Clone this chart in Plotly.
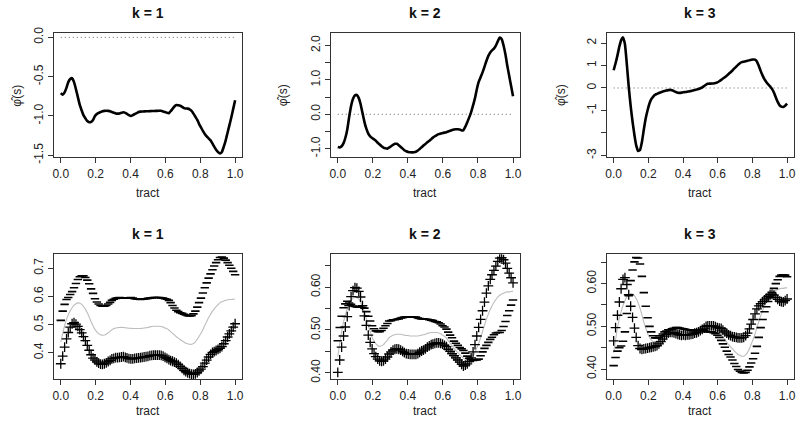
import plotly.graph_objects as go

# ---------------- data ----------------
tract = [0.000, 0.011, 0.022, 0.033, 0.043, 0.054, 0.065, 0.076, 0.087, 0.098,
         0.109, 0.120, 0.130, 0.141, 0.152, 0.163, 0.174, 0.185, 0.196, 0.207,
         0.217, 0.228, 0.239, 0.250, 0.261, 0.272, 0.283, 0.293, 0.304, 0.315,
         0.326, 0.337, 0.348, 0.359, 0.370, 0.380, 0.391, 0.402, 0.413, 0.424,
         0.435, 0.446, 0.457, 0.467, 0.478, 0.489, 0.500, 0.511, 0.522, 0.533,
         0.543, 0.554, 0.565, 0.576, 0.587, 0.598, 0.609, 0.620, 0.630, 0.641,
         0.652, 0.663, 0.674, 0.685, 0.696, 0.707, 0.717, 0.728, 0.739, 0.750,
         0.761, 0.772, 0.783, 0.793, 0.804, 0.815, 0.826, 0.837, 0.848, 0.859,
         0.870, 0.880, 0.891, 0.902, 0.913, 0.924, 0.935, 0.946, 0.957, 0.967,
         0.978, 0.989, 1.000]

phi1 = [-0.71, -0.73, -0.70, -0.64, -0.57, -0.53, -0.52, -0.57, -0.66, -0.76,
        -0.86, -0.93, -0.99, -1.03, -1.065, -1.08, -1.075, -1.05, -1.00, -0.975,
        -0.96, -0.95, -0.94, -0.935, -0.933, -0.935, -0.94, -0.95, -0.96, -0.967,
        -0.97, -0.968, -0.96, -0.953, -0.96, -0.974, -0.99, -1.00, -0.99, -0.975,
        -0.965, -0.95, -0.945, -0.943, -0.942, -0.94, -0.94, -0.939, -0.938, -0.937,
        -0.936, -0.935, -0.933, -0.935, -0.943, -0.95, -0.96, -0.965, -0.94, -0.91,
        -0.88, -0.862, -0.865, -0.87, -0.885, -0.90, -0.905, -0.907, -0.915, -0.935,
        -0.97, -1.01, -1.05, -1.10, -1.145, -1.19, -1.228, -1.26, -1.285, -1.31,
        -1.35, -1.39, -1.43, -1.46, -1.477, -1.457, -1.39, -1.31, -1.21, -1.12,
        -1.02, -0.91, -0.80]

phi2 = [-0.953, -0.965, -0.93, -0.84, -0.69, -0.45, -0.08, 0.24, 0.45, 0.55,
        0.56, 0.47, 0.30, 0.04, -0.22, -0.42, -0.56, -0.64, -0.69, -0.73,
        -0.77, -0.83, -0.88, -0.93, -0.97, -0.99, -1.00, -0.97, -0.93, -0.89,
        -0.86, -0.86, -0.90, -0.95, -1.00, -1.045, -1.075, -1.095, -1.105, -1.107,
        -1.105, -1.09, -1.056, -1.01, -0.96, -0.91, -0.865, -0.815, -0.77, -0.725,
        -0.68, -0.64, -0.605, -0.578, -0.562, -0.548, -0.534, -0.52, -0.50, -0.48,
        -0.46, -0.443, -0.435, -0.437, -0.445, -0.47, -0.46, -0.36, -0.23, -0.09,
        0.06, 0.26, 0.47, 0.72, 0.94, 1.08, 1.22, 1.38, 1.55, 1.70,
        1.80, 1.86, 1.91, 2.00, 2.12, 2.23, 2.19, 2.00, 1.73, 1.42,
        1.12, 0.82, 0.523]

phi3 = [0.79, 1.10, 1.45, 1.85, 2.12, 2.25, 1.95, 1.05, 0.05, -0.80,
        -1.50, -2.10, -2.55, -2.80, -2.76, -2.40, -1.85, -1.35, -0.98, -0.68,
        -0.50, -0.38, -0.30, -0.26, -0.22, -0.19, -0.16, -0.135, -0.11, -0.095,
        -0.085, -0.10, -0.14, -0.18, -0.21, -0.215, -0.205, -0.19, -0.18, -0.165,
        -0.15, -0.13, -0.11, -0.09, -0.07, -0.045, -0.01, 0.03, 0.09, 0.15,
        0.185, 0.195, 0.197, 0.20, 0.22, 0.25, 0.30, 0.36, 0.42, 0.48,
        0.55, 0.62, 0.70, 0.78, 0.87, 0.95, 1.03, 1.10, 1.15, 1.17,
        1.19, 1.21, 1.235, 1.255, 1.265, 1.26, 1.18, 0.98, 0.75, 0.55,
        0.38, 0.27, 0.16, 0.07, -0.04, -0.20, -0.42, -0.62, -0.77, -0.83,
        -0.845, -0.79, -0.70]

mean_fa = [0.438, 0.468, 0.496, 0.519, 0.534, 0.549, 0.560, 0.569, 0.574, 0.577,
           0.576, 0.572, 0.565, 0.555, 0.542, 0.527, 0.510, 0.496, 0.483, 0.474,
           0.468, 0.464, 0.462, 0.463, 0.466, 0.471, 0.476, 0.482, 0.485, 0.488,
           0.489, 0.490, 0.490, 0.490, 0.489, 0.488, 0.487, 0.487, 0.486, 0.486,
           0.486, 0.486, 0.486, 0.487, 0.488, 0.489, 0.490, 0.492, 0.493, 0.494,
           0.494, 0.494, 0.494, 0.493, 0.491, 0.488, 0.485, 0.481, 0.475, 0.469,
           0.463, 0.457, 0.452, 0.447, 0.442, 0.438, 0.434, 0.432, 0.430, 0.430,
           0.433, 0.439, 0.448, 0.458, 0.469, 0.482, 0.497, 0.511, 0.525, 0.537,
           0.548, 0.556, 0.564, 0.571, 0.577, 0.581, 0.584, 0.586, 0.588, 0.589,
           0.589, 0.590, 0.590]

plus1 = [0.361, 0.388, 0.420, 0.449, 0.472, 0.491, 0.503, 0.507, 0.502, 0.494,
         0.482, 0.471, 0.457, 0.443, 0.426, 0.409, 0.393, 0.381, 0.374, 0.368,
         0.363, 0.360, 0.359, 0.361, 0.364, 0.369, 0.373, 0.378, 0.380, 0.383,
         0.383, 0.384, 0.385, 0.386, 0.384, 0.382, 0.379, 0.378, 0.378, 0.380,
         0.381, 0.382, 0.383, 0.384, 0.385, 0.386, 0.387, 0.390, 0.391, 0.392,
         0.392, 0.392, 0.392, 0.391, 0.388, 0.384, 0.380, 0.376, 0.372, 0.370,
         0.367, 0.363, 0.358, 0.352, 0.345, 0.338, 0.333, 0.329, 0.326, 0.324,
         0.323, 0.325, 0.330, 0.336, 0.342, 0.351, 0.363, 0.374, 0.385, 0.394,
         0.401, 0.404, 0.408, 0.412, 0.416, 0.422, 0.432, 0.443, 0.456, 0.467,
         0.478, 0.491, 0.503]

minus1 = [0.515, 0.548, 0.572, 0.589, 0.596, 0.607, 0.617, 0.631, 0.646, 0.660,
          0.670, 0.673, 0.673, 0.667, 0.658, 0.645, 0.627, 0.611, 0.592, 0.580,
          0.573, 0.568, 0.565, 0.565, 0.568, 0.573, 0.579, 0.586, 0.590, 0.593,
          0.595, 0.596, 0.595, 0.594, 0.594, 0.594, 0.595, 0.596, 0.594, 0.592,
          0.591, 0.590, 0.589, 0.590, 0.591, 0.592, 0.593, 0.594, 0.595, 0.596,
          0.596, 0.596, 0.596, 0.595, 0.594, 0.592, 0.590, 0.586, 0.578, 0.568,
          0.559, 0.551, 0.546, 0.542, 0.540, 0.537, 0.534, 0.532, 0.531, 0.532,
          0.538, 0.548, 0.562, 0.578, 0.594, 0.612, 0.631, 0.648, 0.665, 0.680,
          0.695, 0.708, 0.720, 0.730, 0.738, 0.740, 0.736, 0.729, 0.720, 0.711,
          0.700, 0.689, 0.677]

plus2 = [0.401, 0.430, 0.460, 0.486, 0.507, 0.531, 0.557, 0.578, 0.592, 0.599,
         0.598, 0.590, 0.577, 0.557, 0.533, 0.511, 0.488, 0.471, 0.456, 0.445,
         0.438, 0.432, 0.428, 0.427, 0.428, 0.432, 0.437, 0.444, 0.449, 0.453,
         0.455, 0.456, 0.455, 0.453, 0.450, 0.447, 0.445, 0.444, 0.443, 0.443,
         0.443, 0.443, 0.445, 0.448, 0.451, 0.453, 0.456, 0.460, 0.463, 0.466,
         0.467, 0.469, 0.470, 0.470, 0.469, 0.467, 0.464, 0.461, 0.455, 0.450,
         0.445, 0.440, 0.435, 0.430, 0.425, 0.420, 0.416, 0.418, 0.421, 0.426,
         0.435, 0.449, 0.466, 0.486, 0.506, 0.525, 0.545, 0.565, 0.586, 0.603,
         0.618, 0.629, 0.639, 0.649, 0.660, 0.668, 0.669, 0.664, 0.656, 0.644,
         0.633, 0.622, 0.610]

minus2 = [0.475, 0.506, 0.532, 0.552, 0.561, 0.567, 0.563, 0.560, 0.556, 0.555,
          0.554, 0.554, 0.553, 0.553, 0.551, 0.543, 0.532, 0.521, 0.510, 0.503,
          0.498, 0.496, 0.496, 0.499, 0.504, 0.510, 0.515, 0.521, 0.522, 0.524,
          0.524, 0.525, 0.526, 0.528, 0.529, 0.530, 0.530, 0.531, 0.530, 0.530,
          0.530, 0.530, 0.528, 0.527, 0.526, 0.526, 0.525, 0.525, 0.524, 0.523,
          0.522, 0.520, 0.519, 0.517, 0.514, 0.510, 0.507, 0.502, 0.495, 0.488,
          0.482, 0.474, 0.469, 0.464, 0.459, 0.456, 0.452, 0.446, 0.439, 0.434,
          0.431, 0.429, 0.430, 0.430, 0.432, 0.440, 0.449, 0.457, 0.464, 0.471,
          0.478, 0.483, 0.489, 0.493, 0.494, 0.494, 0.499, 0.508, 0.520, 0.534,
          0.545, 0.558, 0.570]

plus3 = [0.466, 0.497, 0.526, 0.557, 0.588, 0.610, 0.614, 0.598, 0.574, 0.547,
         0.521, 0.496, 0.474, 0.455, 0.448, 0.446, 0.447, 0.448, 0.449, 0.450,
         0.451, 0.452, 0.453, 0.455, 0.459, 0.464, 0.470, 0.477, 0.481, 0.484,
         0.486, 0.486, 0.485, 0.483, 0.481, 0.480, 0.479, 0.480, 0.479, 0.480,
         0.480, 0.481, 0.482, 0.484, 0.485, 0.487, 0.490, 0.493, 0.496, 0.500,
         0.501, 0.501, 0.501, 0.501, 0.499, 0.497, 0.496, 0.495, 0.491, 0.487,
         0.484, 0.480, 0.478, 0.476, 0.475, 0.474, 0.473, 0.473, 0.473, 0.474,
         0.478, 0.484, 0.494, 0.505, 0.516, 0.529, 0.541, 0.548, 0.553, 0.558,
         0.562, 0.566, 0.570, 0.574, 0.575, 0.573, 0.568, 0.563, 0.559, 0.558,
         0.557, 0.560, 0.564]

minus3 = [0.408, 0.427, 0.442, 0.450, 0.454, 0.465, 0.487, 0.530, 0.572, 0.607,
          0.632, 0.651, 0.661, 0.660, 0.646, 0.617, 0.579, 0.547, 0.520, 0.500,
          0.487, 0.478, 0.473, 0.473, 0.474, 0.478, 0.482, 0.487, 0.489, 0.492,
          0.492, 0.494, 0.495, 0.497, 0.497, 0.496, 0.495, 0.494, 0.493, 0.492,
          0.492, 0.491, 0.490, 0.490, 0.491, 0.491, 0.490, 0.491, 0.490, 0.488,
          0.487, 0.487, 0.487, 0.485, 0.483, 0.479, 0.474, 0.467, 0.459, 0.451,
          0.442, 0.434, 0.428, 0.421, 0.413, 0.406, 0.399, 0.395, 0.392, 0.391,
          0.392, 0.397, 0.405, 0.414, 0.424, 0.437, 0.453, 0.474, 0.497, 0.516,
          0.534, 0.546, 0.558, 0.568, 0.579, 0.589, 0.600, 0.609, 0.617, 0.620,
          0.621, 0.620, 0.616]

ref_x = [0.0, 1.0]
ref_zero = [0.0, 0.0]

panel_titles = ["k = 1", "k = 2", "k = 3"]
x_ticks = [0.0, 0.2, 0.4, 0.6, 0.8, 1.0]
x_ticktext = ["0.0", "0.2", "0.4", "0.6", "0.8", "1.0"]

top_yticks = [[-1.5, -1.0, -0.5, 0.0],
              [-1.0, -0.5, 0.0, 0.5, 1.0, 1.5, 2.0],
              [-3, -2, -1, 0, 1, 2]]
top_yticktext = [["-1.5", "-1.0", "-0.5", "0.0"],
                 ["-1.0", "", "0.0", "", "1.0", "", "2.0"],
                 ["-3", "", "-1", "0", "1", "2"]]
bot_yticks = [[0.4, 0.5, 0.6, 0.7],
              [0.40, 0.45, 0.50, 0.55, 0.60, 0.65],
              [0.40, 0.45, 0.50, 0.55, 0.60, 0.65]]
bot_yticktext = [["0.4", "0.5", "0.6", "0.7"],
                 ["0.40", "", "0.50", "", "0.60", ""],
                 ["0.40", "", "0.50", "", "0.60", ""]]

# ---------------- layout geometry (pixels) ----------------
W, H = 800, 426
box_x = [(53, 242), (331, 521), (608, 796)]
box_y = [(28, 156), (256, 385)]
top_yrange = [[-1.525, 0.053], [-1.25, 2.36], [-3.08, 2.44]]
bot_yrange = [[0.306, 0.750], [0.385, 0.677], [0.376, 0.669]]
ytitle_x = [16.5, 283, 562]

FONT = "Liberation Sans, Arial, Helvetica, sans-serif"
AX_COL = "#333333"

def px_x(x):
    return x / W

def px_y(y):
    return 1 - y / H

fig = go.Figure()
phis = [phi1, phi2, phi3]
pluses = [plus1, plus2, plus3]
minuses = [minus1, minus2, minus3]

layout = dict(width=W, height=H, margin=dict(l=0, r=0, t=0, b=0),
              paper_bgcolor="white", plot_bgcolor="white",
              showlegend=False, font=dict(family=FONT, color="#111111"))
annotations = []

for r in range(2):
    for c in range(3):
        idx = r * 3 + c + 1
        xa = "x" if idx == 1 else f"x{idx}"
        ya = "y" if idx == 1 else f"y{idx}"
        if r == 0:
            fig.add_trace(go.Scatter(x=ref_x, y=ref_zero, mode="lines",
                                     line=dict(color="#666666", width=1, dash="1px,3px"),
                                     xaxis=xa, yaxis=ya, hoverinfo="skip"))
            fig.add_trace(go.Scatter(x=tract, y=phis[c], mode="lines",
                                     line=dict(color="black", width=2.6, shape="spline", smoothing=0.5),
                                     xaxis=xa, yaxis=ya))
            yr, yt, ytt = top_yrange[c], top_yticks[c], top_yticktext[c]
        else:
            fig.add_trace(go.Scatter(x=tract, y=mean_fa, mode="lines",
                                     line=dict(color="#bdbdbd", width=1.1, shape="spline"),
                                     xaxis=xa, yaxis=ya))
            fig.add_trace(go.Scatter(x=tract, y=pluses[c], mode="markers",
                                     marker=dict(symbol="cross-thin", size=7, color="black",
                                                 line=dict(width=1.3, color="black")),
                                     xaxis=xa, yaxis=ya))
            fig.add_trace(go.Scatter(x=tract, y=minuses[c], mode="markers",
                                     marker=dict(symbol="line-ew", size=6, color="black",
                                                 line=dict(width=1.6, color="black")),
                                     xaxis=xa, yaxis=ya))
            yr, yt, ytt = bot_yrange[c], bot_yticks[c], bot_yticktext[c]

        x0, x1 = box_x[c]
        y0, y1 = box_y[r]
        axis_common = dict(showline=True, mirror=True, linecolor=AX_COL, linewidth=1,
                           ticks="outside", ticklen=5, tickwidth=1, tickcolor=AX_COL,
                           showgrid=False, zeroline=False,
                           tickfont=dict(family=FONT, size=12, color="#222222"))
        layout["xaxis" if idx == 1 else f"xaxis{idx}"] = dict(
            domain=[px_x(x0), px_x(x1)], anchor=ya, range=[-0.04, 1.04],
            tickmode="array", tickvals=x_ticks, ticktext=x_ticktext, **axis_common)
        layout["yaxis" if idx == 1 else f"yaxis{idx}"] = dict(
            domain=[px_y(y1), px_y(y0)], anchor=xa, range=yr,
            tickmode="array", tickvals=yt, ticktext=ytt, tickangle=-90, **axis_common)

        xc = px_x((x0 + x1) / 2)
        annotations.append(dict(text="<b>" + panel_titles[c] + "</b>", x=xc, y=px_y(y0 - 21),
                                xref="paper", yref="paper", showarrow=False,
                                xanchor="center", yanchor="middle",
                                font=dict(family=FONT, size=14, color="#111111")))
        annotations.append(dict(text="tract", x=xc, y=px_y(min(y1 + 36.5, 418)),
                                xref="paper", yref="paper", showarrow=False,
                                xanchor="center", yanchor="middle",
                                font=dict(family=FONT, size=12, color="#222222")))
        if r == 0:
            annotations.append(dict(text="\u03c6\u0302(s)", x=px_x(ytitle_x[c]),
                                    y=px_y((y0 + y1) / 2), textangle=-90,
                                    xref="paper", yref="paper", showarrow=False,
                                    xanchor="center", yanchor="middle",
                                    font=dict(family=FONT, size=12, color="#222222")))

layout["annotations"] = annotations
fig.update_layout(**layout)
fig.write_html("out.html", config={"responsive": False, "displayModeBar": False},
               post_script="document.body.style.margin='0px';document.body.style.overflow='hidden';")
